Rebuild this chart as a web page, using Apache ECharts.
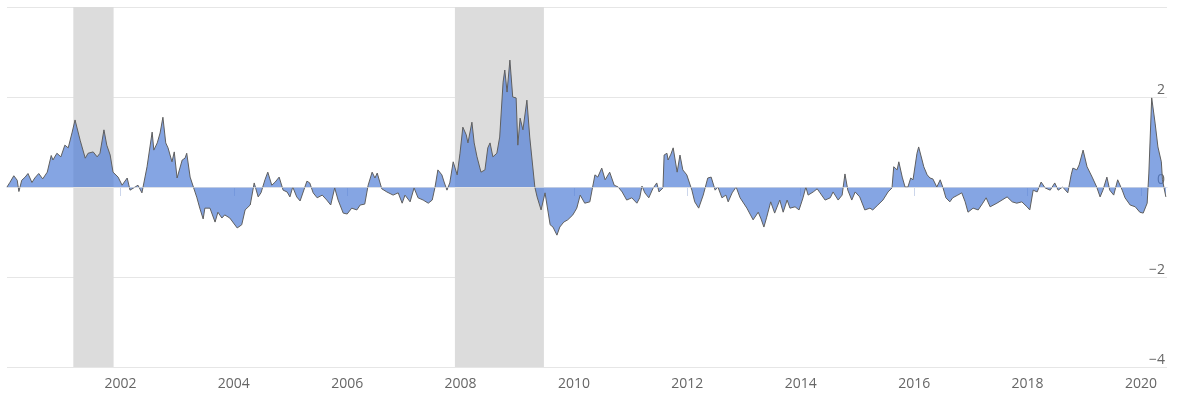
<!DOCTYPE html>
<html>
<head>
<meta charset="utf-8">
<script src="https://cdn.jsdelivr.net/npm/echarts@6/dist/echarts.min.js"></script>
<style>
html,body{margin:0;padding:0;background:#fff;}
#chart{width:1181px;height:406px;}
</style>
</head>
<body>
<div id="chart"></div>
<script>
// decimal years (offset from 2000) and index values
const yearOffsets = [
0.00,0.05,0.12,0.18,0.21,0.26,0.32,0.37,0.44,0.49,0.56,0.63,0.71,0.78,0.81,0.88,0.95,1.02,1.08,1.15,1.20,1.23,1.29,1.38,1.43,1.52,1.59,1.64,1.71,1.76,1.82,1.87,1.96,2.03,2.12,2.17,2.26,2.31,2.38,2.47,2.56,2.59,2.65,2.70,2.75,2.80,2.84,2.91,2.95,3.00,3.09,3.14,3.17,3.23,3.35,3.40,
3.46,3.49,3.58,3.67,3.72,3.79,3.84,3.93,4.06,4.14,4.20,4.29,4.36,4.43,4.48,4.55,4.60,4.67,4.73,4.80,4.87,4.94,4.99,5.04,5.11,5.17,5.29,5.34,5.40,5.47,5.56,5.64,5.71,5.78,5.84,5.93,6.00,6.08,6.17,6.23,6.31,6.37,6.44,6.49,6.53,6.61,6.70,6.81,6.90,6.97,7.02,7.11,7.18,7.25,7.34,7.43,
7.50,7.55,7.60,7.67,7.71,7.76,7.81,7.87,7.94,7.99,8.04,8.10,8.13,8.20,8.24,8.29,8.36,8.43,8.48,8.52,8.57,8.64,8.69,8.75,8.78,8.82,8.87,8.92,8.98,9.01,9.05,9.10,9.17,9.22,9.31,9.35,9.42,9.49,9.58,9.63,9.70,9.75,9.82,9.89,9.98,10.05,10.11,10.19,10.28,10.37,10.42,10.49,10.55,10.63,10.71,10.78,
10.85,10.93,11.02,11.11,11.16,11.20,11.25,11.32,11.39,11.46,11.50,11.57,11.59,11.64,11.66,11.71,11.75,11.82,11.87,11.92,11.99,12.08,12.13,12.20,12.28,12.36,12.42,12.49,12.54,12.61,12.68,12.72,12.79,12.86,12.93,13.05,13.16,13.25,13.30,13.35,13.40,13.47,13.54,13.63,13.69,13.76,13.81,13.90,13.97,14.04,14.09,14.13,14.22,14.29,
14.34,14.43,14.52,14.57,14.66,14.73,14.78,14.83,14.90,14.96,15.04,15.13,15.22,15.27,15.36,15.45,15.54,15.61,15.64,15.70,15.73,15.79,15.84,15.89,15.94,15.98,16.05,16.08,16.14,16.17,16.23,16.28,16.33,16.40,16.46,16.51,16.56,16.63,16.68,16.77,16.84,16.90,16.95,17.04,17.13,17.21,17.27,17.34,17.46,17.55,17.64,17.73,17.81,17.90,17.99,18.04,18.10,
18.17,18.24,18.31,18.40,18.48,18.54,18.62,18.71,18.77,18.80,18.87,18.91,18.98,19.05,19.14,19.22,19.28,19.33,19.40,19.45,19.52,19.59,19.67,19.72,19.81,19.90,19.98,20.04,20.11,20.14,20.19,20.25,20.30,20.36,20.38,20.44
];
const stressValues = [
0.00,0.10,0.25,0.15,-0.10,0.15,0.22,0.30,0.10,0.20,0.30,0.18,0.33,0.70,0.60,0.75,0.67,0.93,0.87,1.22,1.49,1.47,1.04,0.64,0.75,0.78,0.67,0.75,1.27,0.93,0.71,0.33,0.22,0.04,0.20,-0.07,0.00,0.04,-0.13,0.45,1.22,0.82,0.98,1.20,1.55,0.98,0.87,0.56,0.78,0.20,0.60,0.64,0.75,0.22,-0.24,-0.47,
-0.71,-0.47,-0.47,-0.78,-0.56,-0.69,-0.62,-0.69,-0.91,-0.84,-0.51,-0.40,0.09,-0.22,-0.13,0.16,0.33,0.04,0.11,0.22,-0.07,-0.11,-0.22,0.00,-0.22,-0.31,0.13,0.09,-0.13,-0.24,-0.18,-0.29,-0.40,-0.02,-0.29,-0.58,-0.60,-0.47,-0.51,-0.40,-0.38,0.04,0.33,0.20,0.31,-0.04,-0.11,-0.18,-0.13,-0.36,-0.18,-0.33,-0.02,-0.24,-0.29,-0.36,
-0.29,0.00,0.38,0.27,0.11,-0.07,0.09,0.56,0.27,0.75,1.33,1.16,0.98,1.44,0.98,0.67,0.33,0.38,0.87,0.98,0.67,0.75,1.11,2.33,2.60,2.11,2.82,2.00,1.98,0.93,1.53,1.27,1.93,1.11,0.00,-0.22,-0.51,-0.13,-0.84,-0.89,-1.07,-0.89,-0.78,-0.73,-0.62,-0.47,-0.18,-0.36,-0.33,0.27,0.22,0.42,0.16,0.33,0.04,0.00,
-0.11,-0.29,-0.24,-0.36,-0.24,0.02,-0.13,-0.24,-0.04,0.09,-0.11,-0.02,0.71,0.75,0.60,0.73,0.87,0.33,0.71,0.38,0.27,-0.07,-0.33,-0.47,-0.18,0.20,0.22,-0.07,0.00,-0.24,-0.18,-0.33,-0.13,0.00,-0.24,-0.47,-0.73,-0.56,-0.71,-0.89,-0.67,-0.33,-0.58,-0.29,-0.56,-0.29,-0.47,-0.44,-0.51,-0.24,0.00,-0.18,-0.11,-0.04,
-0.13,-0.29,-0.24,-0.11,-0.29,-0.18,0.29,-0.07,-0.29,-0.11,-0.22,-0.51,-0.47,-0.51,-0.40,-0.29,-0.11,-0.02,0.45,0.38,0.56,0.22,0.00,0.00,0.20,0.16,0.75,0.89,0.60,0.45,0.27,0.20,0.18,0.00,0.16,-0.02,-0.24,-0.33,-0.24,-0.18,-0.13,-0.33,-0.56,-0.47,-0.51,-0.36,-0.24,-0.44,-0.36,-0.29,-0.22,-0.33,-0.36,-0.33,-0.44,-0.51,-0.07,
-0.11,0.11,-0.02,-0.07,0.09,-0.07,0.00,-0.13,0.27,0.42,0.38,0.49,0.82,0.45,0.22,0.00,-0.22,-0.07,0.22,-0.07,-0.18,0.16,-0.07,-0.24,-0.40,-0.44,-0.56,-0.58,-0.36,0.31,1.98,1.42,0.89,0.56,0.16,-0.22
];
const recessionStarts = [2001.17, 2007.90];
const recessionEnds = [2001.88, 2009.47];
const xTickYears = [2002, 2004, 2006, 2008, 2010, 2012, 2014, 2016, 2018, 2020];
const yTickValues = [-4, -2, 0, 2];

const baseYear = 2000;
const seriesData = yearOffsets.map((t, i) => [baseYear + t, stressValues[i]]);
const bands = recessionStarts.map((s, i) => [{xAxis: s}, {xAxis: recessionEnds[i]}]);

const chart = echarts.init(document.getElementById('chart'), null, {renderer: 'canvas'});
chart.setOption({
  animation: false,
  backgroundColor: '#ffffff',
  grid: {left: 7, right: 14, top: 7, bottom: 39, containLabel: false},
  xAxis: {
    type: 'value',
    min: 2000,
    max: 2020.46,
    interval: 2,
    axisLine: {show: true, lineStyle: {color: '#ccd6eb', width: 1}},
    axisTick: {show: true, length: 9, lineStyle: {color: '#ccd6eb'}, customValues: xTickYears},
    axisLabel: {
      color: '#666666', fontSize: 14, fontFamily: 'Open Sans, sans-serif', margin: 10,
      customValues: xTickYears,
      formatter: v => String(Math.round(v))
    },
    splitLine: {show: false}
  },
  yAxis: {
    type: 'value',
    position: 'right',
    min: -4,
    max: 4,
    interval: 2,
    axisLine: {show: false},
    axisTick: {show: false},
    axisLabel: {
      inside: true,
      color: '#666666', fontSize: 14, fontFamily: 'Open Sans, sans-serif',
      verticalAlign: 'bottom', margin: 2,
      customValues: yTickValues,
      formatter: v => String(v).replace('-', '\u2212')
    },
    splitLine: {show: true, lineStyle: {color: '#e6e6e6', width: 1}}
  },
  series: [
    {
      type: 'line',
      name: 'recessions',
      data: [],
      z: 1,
      silent: true,
      markArea: {
        silent: true,
        itemStyle: {color: '#dcdcdc', opacity: 1},
        data: bands
      }
    },
    {
      type: 'line',
      name: 'index',
      data: seriesData,
      z: 3,
      symbol: 'none',
      showSymbol: false,
      lineStyle: {color: '#5f5f5f', width: 1},
      areaStyle: {color: 'rgb(78,125,214)', opacity: 0.69, origin: 0},
      markLine: {
        silent: true,
        symbol: ['none', 'none'],
        label: {show: false},
        lineStyle: {color: '#e6e6e6', opacity: 0.65, width: 1, type: 'solid'},
        data: [{yAxis: 0}]
      }
    }
  ]
});
</script>
</body>
</html>
